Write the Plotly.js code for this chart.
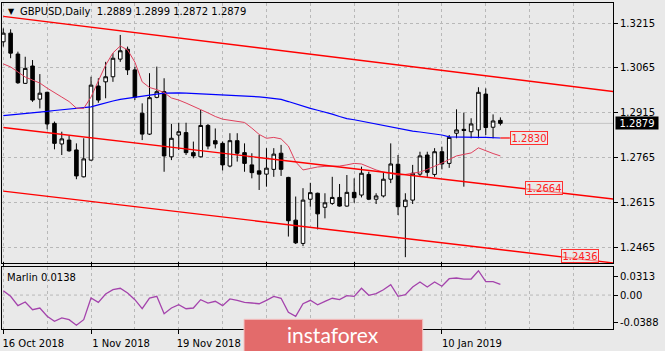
<!DOCTYPE html>
<html><head><meta charset="utf-8">
<script src="https://cdn.plot.ly/plotly-3.0.1.min.js"></script>
<style>html,body{margin:0;padding:0;background:#e9e9e9;}#chart{width:665px;height:351px;}</style>
</head><body><div id="chart"></div>
<script>
// ---- data ----
const symbol = 'GBPUSD,Daily';
const barDates = ['2018-10-16','2018-10-17','2018-10-18','2018-10-19','2018-10-22','2018-10-23','2018-10-24','2018-10-25','2018-10-26','2018-10-29','2018-10-30','2018-10-31',
'2018-11-01','2018-11-02','2018-11-05','2018-11-06','2018-11-07','2018-11-08','2018-11-09','2018-11-12','2018-11-13','2018-11-14','2018-11-15','2018-11-16',
'2018-11-19','2018-11-20','2018-11-21','2018-11-22','2018-11-23','2018-11-26','2018-11-27','2018-11-28','2018-11-29','2018-11-30',
'2018-12-03','2018-12-04','2018-12-05','2018-12-06','2018-12-07','2018-12-10','2018-12-11','2018-12-12','2018-12-13','2018-12-14','2018-12-17','2018-12-18','2018-12-19','2018-12-20','2018-12-21','2018-12-24','2018-12-26','2018-12-27','2018-12-28','2018-12-31',
'2019-01-02','2019-01-03','2019-01-04','2019-01-07','2019-01-08','2019-01-09','2019-01-10','2019-01-11','2019-01-14','2019-01-15','2019-01-16','2019-01-17','2019-01-18','2019-01-21','2019-01-22'];
const openP  = [1.3152,1.3181,1.3111,1.3013,1.3071,1.2960,1.2983,1.2879,1.2810,1.2823,1.2790,1.2700,1.2756,1.3004,1.3018,1.3035,1.3094,1.3127,1.3058,1.2913,1.2843,1.2966,1.2985,1.2767,1.2840,1.2848,1.2781,1.2767,1.2872,1.2821,1.2812,1.2736,1.2821,1.2781,1.2740,1.2720,1.2709,1.2725,1.2779,1.2698,1.2555,1.2477,1.2625,1.2645,1.2598,1.2611,1.2631,1.2602,1.2648,1.2639,1.2708,1.2625,1.2636,1.2692,1.2742,1.2600,1.2622,1.2709,1.2773,1.2708,1.2784,1.2745,1.2846,1.2859,1.2851,1.2857,1.2977,1.2866,1.2889];
const highP  = [1.3197,1.3194,1.3119,1.3102,1.3091,1.3044,1.2985,1.2885,1.2851,1.2837,1.2812,1.2829,1.3035,1.3030,1.3085,1.3114,1.3175,1.3136,1.3069,1.2946,1.3047,1.3069,1.3030,1.2877,1.2881,1.2881,1.2818,1.2924,1.2877,1.2862,1.2818,1.2846,1.2846,1.2812,1.2779,1.2840,1.2796,1.2796,1.2807,1.2700,1.2634,1.2662,1.2680,1.2647,1.2645,1.2700,1.2676,1.2706,1.2695,1.2734,1.2717,1.2645,1.2714,1.2812,1.2773,1.2645,1.2740,1.2784,1.2784,1.2796,1.2801,1.2840,1.2926,1.2915,1.2896,1.3000,1.2996,1.2909,1.2899];
const lowP   = [1.3136,1.3097,1.3011,1.3011,1.2951,1.2929,1.2859,1.2792,1.2773,1.2784,1.2692,1.2698,1.2754,1.2948,1.2963,1.3018,1.3085,1.3041,1.2957,1.2823,1.2840,1.2963,1.2717,1.2756,1.2790,1.2773,1.2762,1.2765,1.2792,1.2795,1.2721,1.2732,1.2751,1.2717,1.2695,1.2656,1.2667,1.2700,1.2703,1.2500,1.2475,1.2468,1.2600,1.2524,1.2561,1.2606,1.2600,1.2600,1.2613,1.2631,1.2622,1.2609,1.2631,1.2679,1.2572,1.2431,1.2609,1.2700,1.2700,1.2700,1.2725,1.2730,1.2829,1.2667,1.2829,1.2829,1.2840,1.2829,1.2872];
const closeP = [1.3181,1.3114,1.3015,1.3063,1.2957,1.2980,1.2877,1.2812,1.2827,1.2787,1.2703,1.2760,1.3007,1.2957,1.3035,1.3097,1.3122,1.3058,1.2966,1.2843,1.2965,1.2985,1.2770,1.2829,1.2851,1.2781,1.2770,1.2872,1.2803,1.2810,1.2740,1.2821,1.2779,1.2745,1.2714,1.2709,1.2729,1.2776,1.2725,1.2553,1.2479,1.2622,1.2647,1.2576,1.2613,1.2631,1.2602,1.2648,1.2630,1.2712,1.2625,1.2636,1.2692,1.2743,1.2600,1.2622,1.2712,1.2770,1.2715,1.2784,1.2743,1.2832,1.2857,1.2855,1.2877,1.2983,1.2865,1.2887,1.2879];
const maSlow = [1.2905,1.2907,1.2910,1.2912,1.2915,1.2917,1.2919,1.2922,1.2924,1.2927,1.2929,1.2931,1.2934,1.2941,1.2948,1.2954,1.2959,1.2963,1.2967,1.2970,1.2974,1.2977,1.2980,1.2981,1.2981,1.2980,1.2979,1.2978,1.2977,1.2976,1.2974,1.2973,1.2972,1.2971,1.2970,1.2968,1.2965,1.2962,1.2959,1.2952,1.2944,1.2936,1.2929,1.2923,1.2917,1.2910,1.2902,1.2895,1.2891,1.2886,1.2882,1.2877,1.2872,1.2867,1.2862,1.2858,1.2853,1.2850,1.2847,1.2843,1.2840,1.2834,1.2833,1.2833,1.2832,1.2832,1.2832,1.2831,1.2830];
const maFast = [1.3078,1.3068,1.3051,1.3034,1.3024,1.3014,1.2997,1.2981,1.2967,1.2952,1.2930,1.2929,1.2967,1.3021,1.3074,1.3115,1.3138,1.3125,1.3084,1.3018,1.2999,1.2992,1.2982,1.2964,1.2957,1.2947,1.2937,1.2925,1.2914,1.2902,1.2893,1.2890,1.2887,1.2882,1.2863,1.2842,1.2829,1.2832,1.2827,1.2803,1.2750,1.2723,1.2728,1.2733,1.2735,1.2736,1.2736,1.2740,1.2745,1.2743,1.2733,1.2723,1.2716,1.2711,1.2706,1.2708,1.2711,1.2716,1.2725,1.2735,1.2746,1.2758,1.2770,1.2775,1.2780,1.2797,1.2787,1.2778,1.2770];
const marlin = [0.0056,-0.0016,-0.0136,-0.0089,-0.0188,-0.0166,-0.0272,-0.0337,-0.0294,-0.0316,-0.0388,-0.0316,-0.0038,-0.0093,0.0014,0.0069,0.0087,0.0027,-0.0059,-0.0175,-0.0038,-0.0016,-0.0239,-0.0166,-0.0124,-0.0175,-0.0166,-0.0059,-0.0102,-0.0080,-0.0136,-0.0050,-0.0067,-0.0093,-0.0102,-0.0111,-0.0067,-0.0016,-0.0041,-0.0221,-0.0272,-0.0111,-0.0067,-0.0124,-0.0080,-0.0041,-0.0059,-0.0008,-0.0016,0.0087,-0.0003,0.0018,0.0069,0.0133,-0.0016,0.0005,0.0104,0.0168,0.0104,0.0168,0.0113,0.0210,0.0219,0.0206,0.0206,0.0313,0.0172,0.0172,0.0138];
// channel (trend lines): bar index and price at both ends
const channelX      = [0, 84];
const channelTop    = [1.3237, 1.2984];
const channelMiddle = [1.2865, 1.2624];
const channelBottom = [1.2652, 1.2410];
const lineLabels = ['1.2830','1.2664','1.2436'];
const marlinTickText = ['0.0313','0.00','-0.0388'];
const priceTick0 = 1.2465, priceStep = 0.015;

// ---- geometry / style ----
const monthNames = ['Jan','Feb','Mar','Apr','May','Jun','Jul','Aug','Sep','Oct','Nov','Dec'];
const fmtDate = s => { const p = s.split('-'); return (+p[2]) + ' ' + monthNames[+p[1]-1] + ' ' + p[0]; };
const idx = barDates.map((d,i)=>i);
const last = barDates.length - 1;
const pxBar = 7.31, firstBarPx = 3.3;
const plotL = 2, plotR = 613, plotT = 3, plotB = 329, W = 665, H = 351;
const pxToIdx = px => (px - firstBarPx) / pxBar;
const idxToPx = i => firstBarPx + i * pxBar;
const ph = plotB - plotT;
const fracY = py => (plotB - py) / ph;
const fracX = px => (px - plotL) / (plotR - plotL);
const pxToPrice = py => 1.3215 - (py - 23) * 0.0003348;
const pxToMarlin = py => 0.0313 - (py - 270.7) * 0.001284;
const wmL = 244, wmR = 422.7;   // watermark box (pixels)

const tickIdx = []; for (let i = 0; i <= last; i += 12) tickIdx.push(i);
const minorIdx = []; for (let i = 0; i <= 84; i += 6) minorIdx.push(i);
// labels hidden under the watermark are not shown in the reference
const tickText = tickIdx.map(i => { const px = idxToPx(i); return (px > wmL - 40 && px < wmR) ? '' : fmtDate(barDates[i]); });

const font = {family:'DejaVu Sans', size:10, color:'#000'};
const gridC = '#b8b8b8';

const traces = [
  {type:'candlestick', x:idx, open:openP, high:highP, low:lowP, close:closeP, xaxis:'x', yaxis:'y',
   increasing:{line:{color:'#000', width:1}, fillcolor:'#ffffff'},
   decreasing:{line:{color:'#000', width:1}, fillcolor:'#000000'},
   whiskerwidth:0, hoverinfo:'skip', showlegend:false},
  {type:'scatter', mode:'lines', x:idx, y:maSlow, line:{color:'#0000ff', width:1.2}, xaxis:'x', yaxis:'y', hoverinfo:'skip', showlegend:false},
  {type:'scatter', mode:'lines', x:idx, y:maFast, line:{color:'#e0405c', width:1}, xaxis:'x', yaxis:'y', hoverinfo:'skip', showlegend:false},
  {type:'scatter', mode:'lines', x:channelX, y:channelTop, line:{color:'#ff0000', width:1.4}, xaxis:'x', yaxis:'y', hoverinfo:'skip', showlegend:false},
  {type:'scatter', mode:'lines', x:channelX, y:channelMiddle, line:{color:'#ff0000', width:1.4}, xaxis:'x', yaxis:'y', hoverinfo:'skip', showlegend:false},
  {type:'scatter', mode:'lines', x:channelX, y:channelBottom, line:{color:'#ff0000', width:1.4}, xaxis:'x', yaxis:'y', hoverinfo:'skip', showlegend:false},
  {type:'scatter', mode:'lines', x:idx, y:marlin, line:{color:'#a443ac', width:1.3}, xaxis:'x', yaxis:'y2', hoverinfo:'skip', showlegend:false}
];

const lastPx = closeP[last];
const labelBox = (text, xi, yv) => ({text:text, x:xi, y:yv, xref:'x', yref:'y', xanchor:'center', yanchor:'middle', showarrow:false,
  font:{family:'DejaVu Sans', size:10, color:'#ff2020'}, bordercolor:'#ff3030', borderwidth:1, borderpad:0,
  bgcolor:'rgba(233,233,233,0.6)', width:36, height:12});

const layout = {
  width:W, height:H, margin:{l:plotL, r:W-plotR, t:plotT, b:H-plotB},
  paper_bgcolor:'#e9e9e9', plot_bgcolor:'#e9e9e9', font:font, showlegend:false,
  xaxis:{range:[pxToIdx(plotL), pxToIdx(plotR)], anchor:'y2', rangeslider:{visible:false},
    tickmode:'array', tickvals:tickIdx, ticktext:tickText,
    ticks:'outside', ticklen:4, tickcolor:'#000', ticklabelshift:30, ticklabelstandoff:1,
    showgrid:true, gridcolor:gridC, griddash:'3px,3px', gridwidth:1,
    minor:{tickmode:'array', tickvals:minorIdx, showgrid:true, gridcolor:gridC, griddash:'3px,3px', ticks:''},
    showline:true, linecolor:'#000', linewidth:1, mirror:'all', zeroline:false, fixedrange:true},
  yaxis:{domain:[fracY(263), 1], range:[pxToPrice(263), pxToPrice(plotT)], side:'right',
    tickmode:'linear', tick0:priceTick0, dtick:priceStep, tickformat:'.4f',
    ticks:'outside', ticklen:4, tickcolor:'#000',
    showgrid:true, gridcolor:gridC, griddash:'3px,3px', zeroline:false,
    showline:true, linecolor:'#000', mirror:true, fixedrange:true},
  yaxis2:{domain:[0, fracY(266.5)], range:[pxToMarlin(plotB), pxToMarlin(266.5)], side:'right',
    tickmode:'array', tickvals:[pxToMarlin(276), 0, pxToMarlin(322)], ticktext:marlinTickText,
    ticks:'outside', ticklen:4, tickcolor:'#000', showgrid:false, zeroline:false,
    showline:true, linecolor:'#000', mirror:true, fixedrange:true},
  shapes:[
    {type:'line', xref:'paper', x0:0, x1:1, yref:'y2', y0:0, y1:0, line:{color:gridC, width:1, dash:'3px,3px'}, layer:'below'},
    {type:'line', xref:'paper', x0:0, x1:1, yref:'y', y0:lastPx, y1:lastPx, line:{color:'#c4c4c4', width:1}, layer:'below'},
    {type:'line', xref:'x', x0:last, x1:pxToIdx(510), yref:'y', y0:maSlow[last], y1:maSlow[last], line:{color:'#ff0000', width:1.2}},
    {type:'rect', xref:'paper', yref:'paper', x0:fracX(wmL), x1:fracX(wmR), y0:fracY(352), y1:fracY(319.3),
     fillcolor:'#e36b6b', line:{color:'#f3c4c4', width:1}, layer:'above'}
  ],
  annotations:[
    {text:'▼', xref:'paper', yref:'paper', x:fracX(11), y:fracY(12), xanchor:'center', yanchor:'middle', showarrow:false, font:{family:'DejaVu Sans', size:8, color:'#000'}},
    {text:symbol + '  ' + [openP[last],highP[last],lowP[last],closeP[last]].map(v=>v.toFixed(4)).join(' '),
     xref:'paper', yref:'paper', x:fracX(18), y:fracY(12), xanchor:'left', yanchor:'middle', showarrow:false, font:font},
    {text:'Marlin ' + marlin[last].toFixed(4), xref:'paper', yref:'paper', x:fracX(5), y:fracY(277), xanchor:'left', yanchor:'middle', showarrow:false, font:font},
    {text:lastPx.toFixed(4), xref:'paper', x:1, xanchor:'left', xshift:2, yref:'y', y:lastPx, yanchor:'middle', showarrow:false,
     font:{family:'DejaVu Sans', size:10, color:'#fff'}, bgcolor:'#000', borderpad:0, width:42, height:12},
    labelBox(lineLabels[0], pxToIdx(529), maSlow[last]),
    labelBox(lineLabels[1], pxToIdx(543.5), +lineLabels[1]),
    labelBox(lineLabels[2], pxToIdx(579.5), +lineLabels[2]),
    {text:'instaforex', xref:'paper', yref:'paper', x:fracX(333.5), y:fracY(334.5), xanchor:'center', yanchor:'middle', showarrow:false,
     font:{family:'Lato', size:21, color:'#ffffff'}}
  ]
};

Plotly.newPlot('chart', traces, layout, {staticPlot:true, displayModeBar:false});
</script></body></html>
